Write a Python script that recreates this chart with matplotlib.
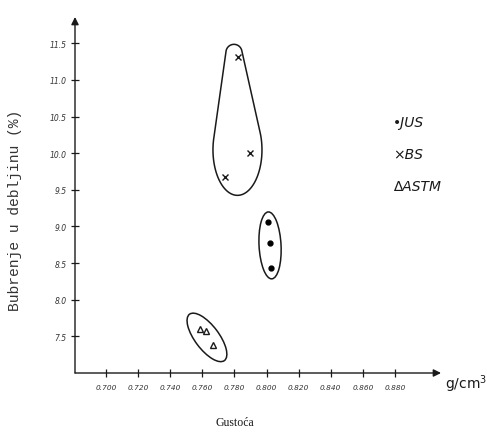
import numpy as np
import matplotlib
matplotlib.use("Agg")
import matplotlib.pyplot as plt
from matplotlib.patches import Ellipse, Polygon
from matplotlib.transforms import ScaledTranslation

# ---- data ----
jus_x = [0.801, 0.802, 0.803]
jus_y = [9.06, 8.77, 8.44]
bs_x = [0.782, 0.790, 0.774]
bs_y = [11.32, 10.00, 9.68]
astm_x = [0.7586, 0.7626, 0.7669]
astm_y = [7.60, 7.57, 7.38]

x_ticks = [0.700, 0.720, 0.740, 0.760, 0.780, 0.800, 0.820, 0.840, 0.860, 0.880]
x_ticklabels = ["0.700", "0.720", "0.740", "0.760", "0.780", "0.800",
                "0.820", "0.840", "0.860", "0.880"]
y_ticks = [7.5, 8.0, 8.5, 9.0, 9.5, 10.0, 10.5, 11.0, 11.5]
y_ticklabels = ["7.5", "8.0", "8.5", "9.0", "9.5", "10.0", "10.5", "11.0", "11.5"]

legend_labels = ["JUS", "BS", "ASTM"]

W, H = 487, 435
fig = plt.figure(figsize=(W / 100, H / 100), dpi=100)
ax = fig.add_axes([75 / W, 1 - 374 / H, (441 - 75) / W, (374 - 18) / H])
ax.set_xlim(0.6807, 0.9087)
ax.set_ylim(7.0, 11.86)

for sp in ax.spines.values():
    sp.set_visible(False)

ink = "#1a1a1a"
# axes with arrows
ax.annotate("", xy=(0, 1), xytext=(0, 0), xycoords="axes fraction",
            arrowprops=dict(arrowstyle="-|>", lw=1.0, color=ink, mutation_scale=11,
                            shrinkA=0, shrinkB=0))
ax.annotate("", xy=(1, 0), xytext=(0, 0), xycoords="axes fraction",
            arrowprops=dict(arrowstyle="-|>", lw=1.0, color=ink, mutation_scale=11,
                            shrinkA=0, shrinkB=0))

ax.set_xticks(x_ticks)
ax.set_xticklabels(x_ticklabels, fontsize=5.3, style="italic", color="#333333")
ax.set_yticks(y_ticks)
ax.set_yticklabels(y_ticklabels, fontsize=5.5, style="italic", color="#333333")
ax.tick_params(direction="inout", length=6, width=0.9, color=ink)
ax.tick_params(axis="x", pad=5)
ax.tick_params(axis="y", pad=3)

# data points
ax.plot(jus_x, jus_y, "o", color="black", ms=3.5, clip_on=False)
ax.plot(bs_x, bs_y, "x", color=ink, ms=4.5, mew=1.0, clip_on=False)
ax.plot(astm_x, astm_y, "^", mfc="white", mec=ink, ms=4.5, mew=1.0, clip_on=False)


# enclosing outlines (drawn in pixel units around a data-space centre)
def px_trans(cx, cy):
    return fig.dpi_scale_trans + ScaledTranslation(cx, cy, ax.transData)


def convex_hull(points):
    pts = sorted(map(tuple, points))

    def cross(o, a, b):
        return (a[0] - o[0]) * (b[1] - o[1]) - (a[1] - o[1]) * (b[0] - o[0])

    lower, upper = [], []
    for p in pts:
        while len(lower) >= 2 and cross(lower[-2], lower[-1], p) <= 0:
            lower.pop()
        lower.append(p)
    for p in reversed(pts):
        while len(upper) >= 2 and cross(upper[-2], upper[-1], p) <= 0:
            upper.pop()
        upper.append(p)
    return np.array(lower[:-1] + upper[:-1])


# JUS ellipse
ax.add_patch(Ellipse((0, 0), 67 / 100, 22 / 100, angle=93, fill=False, lw=1.1,
                     ec=ink, transform=px_trans(0.8022, 8.742)))
# ASTM ellipse
ax.add_patch(Ellipse((0, 0), 58 / 100, 24 / 100, angle=127, fill=False, lw=1.1,
                     ec=ink, transform=px_trans(0.7629, 7.486)))
# BS teardrop: hull of a small top circle and a lower ellipse (pixels)
th = np.linspace(0, 2 * np.pi, 360, endpoint=False)
top = np.column_stack([-3 + 8 * np.cos(th), 67.5 + 8 * np.sin(th)])
bot = np.column_stack([0.5 + 24.5 * np.cos(th), -30 + 45.5 * np.sin(th)])
hull = convex_hull(np.vstack([top, bot]))
ax.add_patch(Polygon(hull / 100, closed=True, fill=False, lw=1.1, ec=ink,
                     joinstyle="round", transform=px_trans(0.7816, 10.456)))

# axis labels
fig.text(15 / W, 1 - 210 / H, "Bubrenje u debljinu (%)", rotation=90,
         family="Liberation Mono", fontsize=10.5, ha="center", va="center",
         color="#333333")
fig.text(235 / W, 1 - 423 / H, "Gustoća", family="Liberation Serif",
         fontsize=8.5, ha="center", va="center", color=ink)
fig.text(445 / W, 1 - 384 / H, "g/cm$^3$", fontsize=10, ha="left", va="center",
         color=ink)

# legend
markers_txt = ["\u2022", "\u00d7", "\u2206"]
ys = [123, 155, 187]
for m, lab, yy in zip(markers_txt, legend_labels, ys):
    fig.text(393 / W, 1 - yy / H, m + lab, fontsize=10, style="italic",
             ha="left", va="center", color=ink)

fig.savefig("out.png", dpi=100, facecolor="white")
